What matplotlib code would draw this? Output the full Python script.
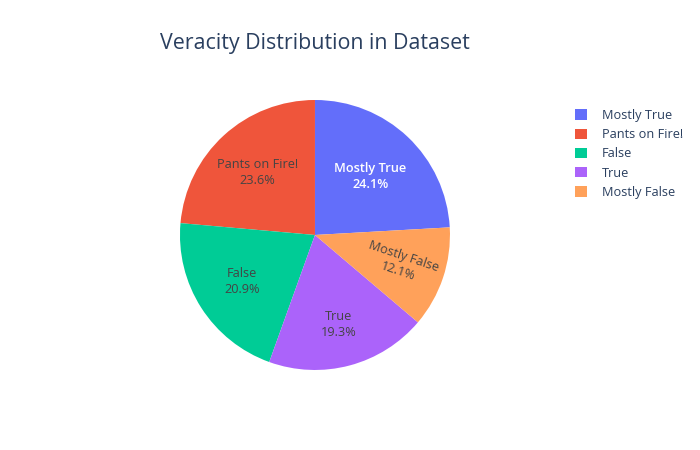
import numpy as np
import matplotlib.pyplot as plt
from matplotlib.patches import Patch

labels = ["Mostly True", "Pants on Fire!", "False", "True", "Mostly False"]
shares = [24.1, 23.6, 20.9, 19.3, 12.1]
colors = ["#636efa", "#ef553b", "#00cc96", "#ab63fa", "#ffa15a"]
text_colors = ["white", "#444444", "#444444", "#444444", "#444444"]

plt.rcParams["font.family"] = ["Open Sans", "DejaVu Sans"]

fig = plt.figure(figsize=(7, 4.5), dpi=100)
ax = fig.add_axes([0.2571, 0.1778, 0.3857, 0.6])

# plotly-style: counterclockwise, first slice ending at 12 o'clock
start = 90 - shares[0] * 3.6
wedges, _ = ax.pie(shares, colors=colors, startangle=start, counterclock=True,
                   radius=1, wedgeprops={"linewidth": 0})
ax.set_xlim(-1, 1)
ax.set_ylim(-1, 1)
ax.set_aspect("equal")

dists = [0.60, 0.63, 0.64, 0.69, 0.67]
for w, lab, val, tc, d in zip(wedges, labels, shares, text_colors, dists):
    mid = np.deg2rad((w.theta1 + w.theta2) / 2)
    rot = 0
    if val < 15:
        rot = np.rad2deg(mid)
    ax.text(d * np.cos(mid), d * np.sin(mid), f"{lab}\n{val:.1f}%",
            ha="center", va="center", fontsize=9.2, color=tc,
            fontweight="semibold" if tc == "white" else "normal",
            rotation=rot, rotation_mode="anchor", linespacing=1.3)

fig.text(315 / 700, 1 - 43 / 450, "Veracity Distribution in Dataset",
         ha="center", va="center", fontsize=15.4, color="#2a3f5f")

handles = [Patch(facecolor=c, edgecolor="none") for c in colors]
fig.legend(handles, labels, loc="upper left", bbox_to_anchor=(570 / 700, 1 - 104 / 450),
           frameon=False, fontsize=9.2, labelcolor="#2a3f5f", handlelength=0.9,
           handleheight=0.9, handletextpad=1.2, labelspacing=0.48, borderaxespad=0)

fig.savefig("out.png", dpi=100)
